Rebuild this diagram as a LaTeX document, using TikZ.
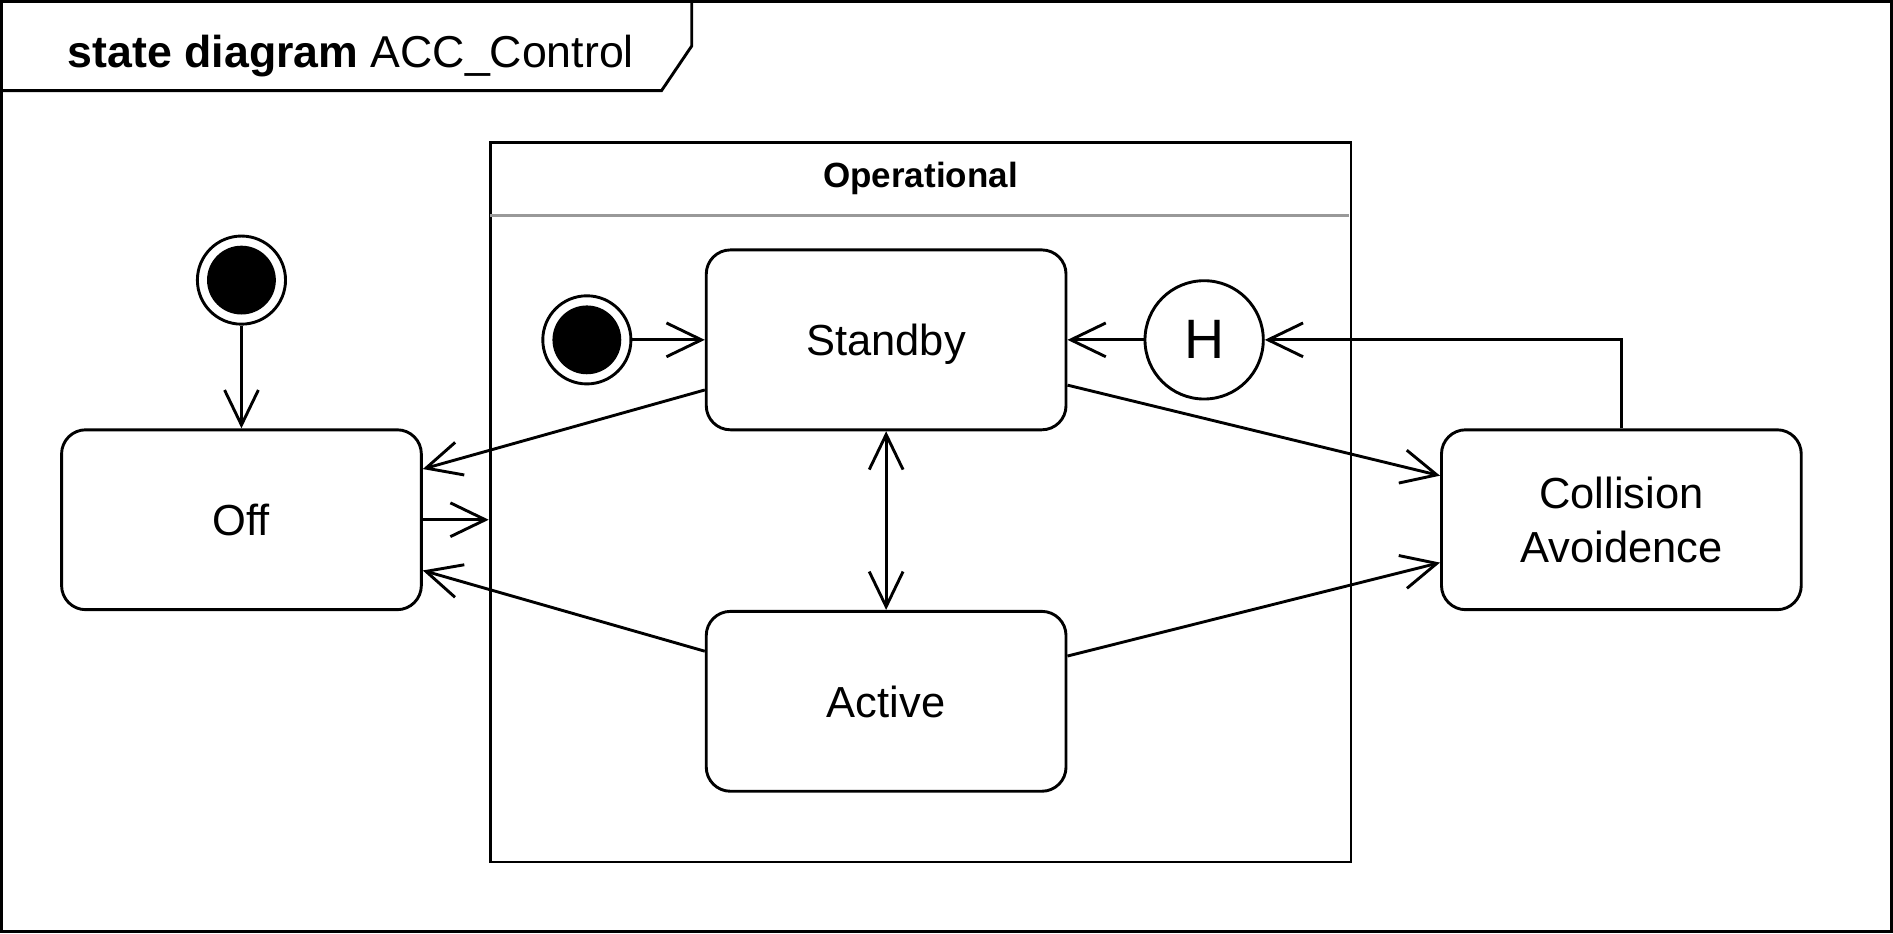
\documentclass[tikz,border=0pt]{standalone}
\usepackage{fontspec}
\setmainfont{Liberation Sans}
\usetikzlibrary{positioning,calc,arrows.meta}
\definecolor{sepgray}{HTML}{999999}
\tikzset{barb/.tip={Straight Barb[length=14.5pt,width=14pt]}}

\begin{document}
\begin{tikzpicture}[x=0.5pt,y=-0.5pt,line width=1.2pt,
   state/.style={draw, rounded corners=10pt, minimum width=149pt, minimum height=74.5pt,
     align=center, text depth=0pt, font=\fontsize{18}{22.5}\selectfont},
   initst/.style={circle, draw, minimum size=36.5pt, inner sep=0pt,
     path picture={\fill (path picture bounding box.center) circle (14.25pt);}},
   trans/.style={-barb}]
   \useasboundingbox (0,0) rectangle (1568,773);
   % frame and title tab
   \draw (1.2,1.2) rectangle (1566.8,771.8);
   \draw (1.2,75) -- (548,75) -- (573,38) -- (573,1.2);
   \node[anchor=base west, inner sep=0pt, font=\fontsize{18.5}{22}\selectfont] (title) at (55,56)
   {\textbf{state diagram} ACC\_Control};
   % states
   \node[initst] (init) at (200,232) {};
   \node[state] (off) at (200,430.5) {Off};
   \node[draw, minimum width=356.5pt, minimum height=298pt, inner sep=0pt] (op) at (762.5,416) {};
   \node[anchor=base, font=\bfseries\fontsize{14.5}{17}\selectfont] (optitle) at (762.5,155) {Operational};
   \draw[sepgray] ($(op.north west)+(1.2,62)$) -- ($(op.north east)+(-2.5,62)$);
   \node[state] (standby) at (734,281.5) {Standby};
   \node[state] (active) [below=74pt of standby] {Active};
   \node[initst] (opinit) [left=30pt of standby] {};
   \node[circle, draw, minimum size=49pt, inner sep=0pt, font=\fontsize{23}{27}\selectfont]
     (hist) [right=31.5pt of standby] {H};
   \node[state] (ca) at (1343,430.5) {Collision\\Avoidence};
   % transitions
   \path[trans]
     (init) edge (off)
     (opinit) edge (standby)
     (hist) edge (standby)
     (off.east) edge (off.east -| op.west)
     ($(standby.west)+(0,41.5)$) edge ($(off.east)+(0,-42)$)
     ($(active.west)+(0,-41.5)$) edge ($(off.east)+(0,42)$)
     ($(standby.east)+(0,37.5)$) edge ($(ca.west)+(0,-36.5)$)
     ($(active.east)+(0,-37.5)$) edge ($(ca.west)+(0,35.5)$)
     ;
   \draw[barb-barb] (standby) -- (active);
   \draw[trans] (ca.north) |- (hist.east);
\end{tikzpicture}
\end{document}
